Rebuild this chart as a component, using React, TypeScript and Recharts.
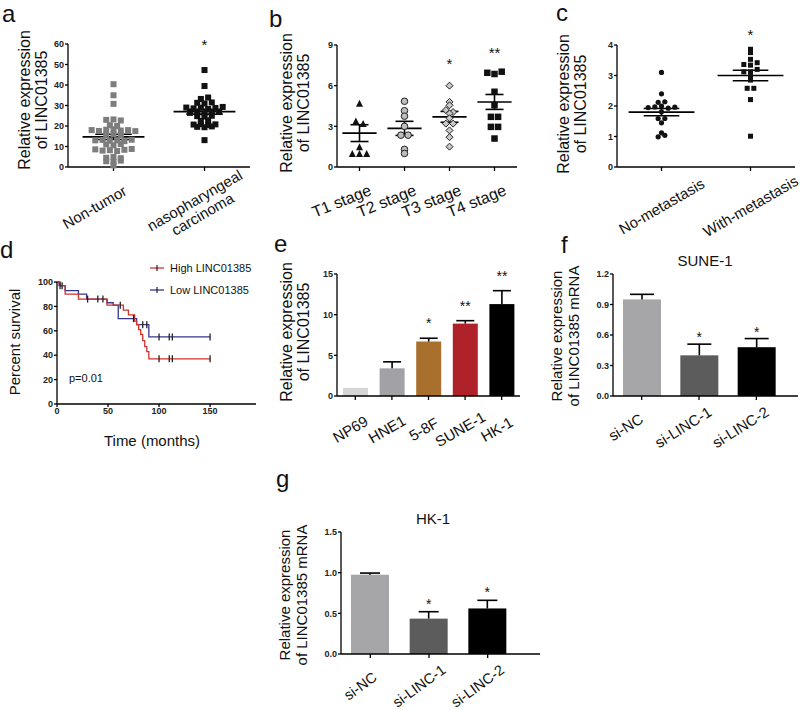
import React from 'react';
import {
  ScatterChart, Scatter, XAxis, YAxis, ReferenceLine, ReferenceDot,
  ComposedChart, Line, BarChart, Bar,
} from 'recharts';

const FONT = '"Liberation Sans", Arial, Helvetica, sans-serif';

// a: each inner array is one row of dots in the scatter plot
const aGroups = ['Non-tumor', 'nasopharyngeal\ncarcinoma'];
const aNonTumorRows = [
  [40.4], [35], [30.8], [23, 23.2, 22.7], [20.4, 20], [18, 17.6, 18.2, 18.4, 17.8, 18, 17.5],
  [15.7, 16, 15.5], [13, 13.2, 12.8, 13, 12.6, 13.3], [11, 10.6, 11.2], [8.6, 8, 8.2, 7.8, 8.4, 8.8],
  [4.5, 4.9, 4.3], [2.8, 2.5, 3.1], [0.8],
];
const aTumorRows = [
  [47.3], [39.5], [33.2, 33.9], [31.3, 31, 31.5], [29, 28.6, 28.9, 28.3, 28.8, 29.3],
  [26.4, 26.6, 26.2, 26.5, 26.8], [24.8, 24.6, 25], [22.5, 22.8], [20.7, 20.9, 20.5, 20.8],
  [19.6, 19.4, 19.8], [13.1],
];
const aMeans = [14.7, 27];
const aSem = [1.3, 1.2];

// b
const bGroups = ['T1 stage', 'T2 stage', 'T3 stage', 'T4 stage'];
const bT1Rows = [[4.7], [3.4, 3.2], [1.5], [1.0, 1.0, 1.0]];
const bT2Rows = [[4.85], [4.15], [3.75], [3.0], [2.35, 2.35], [1.3], [1.0]];
const bT3Rows = [[6.0], [4.8], [4.55], [4.2, 4.05], [3.95], [3.6], [3.2, 3.2], [2.7], [2.2], [1.5]];
const bT4Rows = [[6.95, 6.86, 7.03], [5.55], [4.56], [3.7, 3.7], [2.96, 2.96], [2.1]];
const bMeans = [2.5, 2.85, 3.7, 4.8];
const bSem = [0.62, 0.52, 0.4, 0.55];

// c
const cGroups = ['No-metastasis', 'With-metastasis'];
const cNoMetRows = [
  [3.1], [2.4], [2.12, 2.14], [1.95, 1.97, 2.0, 1.93, 1.96], [1.81], [1.59, 1.59], [1.45], [1.12], [0.99, 1.04],
];
const cMetRows = [
  [3.86], [3.75], [3.53], [3.36, 3.34, 3.42], [3.12, 3.12, 3.2], [2.96], [2.85], [2.58, 2.58], [2.21], [1.01],
];
const cMeans = [1.8, 3.0];
const cSem = [0.12, 0.17];

// d: Kaplan-Meier
const dHighTime = [0, 3, 8, 21, 49, 65, 70, 76, 78, 80, 82, 84, 86, 88, 90, 150];
const dHighSurv = [100, 97, 90, 86, 81, 77, 73, 68, 65, 61, 57, 52, 47, 43, 37, 37];
const dLowTime = [0, 2, 8, 21, 29, 49, 55, 60, 78, 90, 150];
const dLowSurv = [100, 97, 93, 90, 86, 83, 81, 70, 65, 55, 55];
const dHighCensorTime = [3, 62, 100, 110, 113, 150];
const dHighCensorSurv = [97, 81, 37, 37, 37, 37];
const dLowCensorTime = [5, 30, 40, 45, 75, 84, 88, 100, 110, 113, 150];
const dLowCensorSurv = [97, 86, 86, 86, 70, 65, 65, 55, 55, 55, 55];

// e
const eCells = ['NP69', 'HNE1', '5-8F', 'SUNE-1', 'HK-1'];
const eValues = [1.0, 3.4, 6.7, 8.9, 11.3];
const eSem = [0, 0.8, 0.4, 0.36, 1.65];
const eStars = ['', '', '*', '**', '**'];
const eColors = ['#d6d6d6', '#a2a2a6', '#a8702c', '#b0222a', '#000000'];

// f
const fCells = ['si-NC', 'si-LINC-1', 'si-LINC-2'];
const fValues = [0.95, 0.40, 0.48];
const fSem = [0.05, 0.11, 0.085];
const fStars = ['', '*', '*'];

// g
const gCells = ['si-NC', 'si-LINC-1', 'si-LINC-2'];
const gValues = [0.975, 0.435, 0.56];
const gSem = [0.02, 0.085, 0.1];
const gStars = ['', '*', '*'];

const knockColors = ['#a6a6a8', '#5c5c5c', '#000000'];

const AXIS = { stroke: '#000', strokeWidth: 1.3 };
const TICK = { fontSize: 9, fontWeight: 700, fill: '#222', fontFamily: FONT };

// spread each row of dots around the group centre
function rowsToPoints(rows: number[][], group: number, step: number) {
  const pts: { x: number; y: number }[] = [];
  rows.forEach((row) =>
    row.forEach((v, i) => pts.push({ x: group + (i - (row.length - 1) / 2) * step, y: v }))
  );
  return pts;
}

const square = (s: number, fill: string) => (p: any) => (
  <rect x={p.cx - s / 2} y={p.cy - s / 2} width={s} height={s} fill={fill} />
);
const dot = (r: number, fill: string, stroke = 'none') => (p: any) => (
  <circle cx={p.cx} cy={p.cy} r={r} fill={fill} stroke={stroke} strokeWidth={1} />
);
const triangle = (s: number, fill: string) => (p: any) => (
  <polygon
    points={`${p.cx},${p.cy - s / 2} ${p.cx - s / 2},${p.cy + s / 2} ${p.cx + s / 2},${p.cy + s / 2}`}
    fill={fill}
  />
);
const diamond = (s: number, fill: string) => (p: any) => (
  <polygon
    points={`${p.cx},${p.cy - s / 2} ${p.cx + s / 2},${p.cy} ${p.cx},${p.cy + s / 2} ${p.cx - s / 2},${p.cy}`}
    fill={fill}
    stroke="#222"
    strokeWidth={1}
  />
);

function AngledTick(props: any) {
  const { x, y, payload, labels, angle, dx, dy, size } = props;
  const idx = typeof payload.value === 'number' ? Math.round(payload.value) - 1 : 0;
  const raw = labels ? labels[idx] : payload.value;
  const lines = String(raw).split('\n');
  const lh = size * 1.05;
  const ox = Array.isArray(dx) ? dx[idx] ?? dx[0] : dx;
  return (
    <g transform={`translate(${x + ox},${y + dy}) rotate(${angle})`}>
      <text textAnchor="middle" fontSize={size} fontFamily={FONT} fill="#111">
        {lines.map((l, i) => (
          <tspan key={i} x={0} y={(i - (lines.length - 1) / 2) * lh} dominantBaseline="central">
            {l}
          </tspan>
        ))}
      </text>
    </g>
  );
}

const starShape = (text: string, size: number) => (p: any) => (
  <text x={p.cx} y={p.cy + size * 0.58} textAnchor="middle" fontSize={size} fontFamily={FONT} fill="#111">
    {text}
  </text>
);

function ScatterPanel(props: any) {
  const {
    width, height, margin, yDomain, yTicks, series, labels, means, sems, meanHalf, semHalf,
    stars, tick, xDomain,
  } = props;
  const xTicks = labels.map((_: string, i: number) => i + 1);
  return (
    <ScatterChart width={width} height={height} margin={margin} style={{ fontFamily: FONT }}>
      <XAxis
        type="number" dataKey="x" domain={xDomain} ticks={xTicks} interval={0}
        axisLine={AXIS} tickLine={AXIS} tickSize={4} height={height - margin.top - margin.bottom - props.plotH}
        tick={<AngledTick labels={labels} {...tick} />}
      />
      <YAxis
        type="number" dataKey="y" domain={yDomain} ticks={yTicks} interval={0} width={30}
        axisLine={AXIS} tickLine={AXIS} tickSize={3} tickMargin={1} tick={TICK}
      />
      {series.map((s: any, i: number) => (
        <Scatter key={i} data={s.points} shape={s.shape} isAnimationActive={false} />
      ))}
      {means.flatMap((m: number, i: number) => {
        const g = i + 1;
        const lo = m - sems[i];
        const hi = m + sems[i];
        return [
          <ReferenceLine key={'m' + i} segment={[{ x: g - meanHalf, y: m }, { x: g + meanHalf, y: m }]} stroke="#000" strokeWidth={1.6} />,
          <ReferenceLine key={'v' + i} segment={[{ x: g, y: lo }, { x: g, y: hi }]} stroke="#000" strokeWidth={1.6} />,
          <ReferenceLine key={'h' + i} segment={[{ x: g - semHalf, y: hi }, { x: g + semHalf, y: hi }]} stroke="#000" strokeWidth={1.6} />,
          <ReferenceLine key={'l' + i} segment={[{ x: g - semHalf, y: lo }, { x: g + semHalf, y: lo }]} stroke="#000" strokeWidth={1.6} />,
        ];
      })}
      {stars.map((s: any, i: number) => (
        <ReferenceDot key={'s' + i} x={s.x} y={s.y} r={0} ifOverflow="visible" shape={starShape(s.text, 15)} />
      ))}
    </ScatterChart>
  );
}

const barShape = (capHalf: number, starGap: number, starSize: number) => (p: any) => {
  const { x, y, width, height, payload } = p;
  const pxPerUnit = height / payload.value;
  const errTop = y - payload.sem * pxPerUnit;
  const cx = x + width / 2;
  return (
    <g>
      <rect x={x} y={y} width={width} height={height} fill={payload.fill} />
      {payload.sem > 0 && (
        <g stroke="#000" strokeWidth={1.6}>
          <line x1={cx} x2={cx} y1={y} y2={errTop} />
          <line x1={cx - capHalf} x2={cx + capHalf} y1={errTop} y2={errTop} />
        </g>
      )}
      {payload.star && (
        <text x={cx} y={errTop - starGap + starSize * 0.58} textAnchor="middle" fontSize={starSize} fontFamily={FONT} fill="#111">
          {payload.star}
        </text>
      )}
    </g>
  );
};

function BarPanel(props: any) {
  const { width, height, margin, data, yDomain, yTicks, yFormat, barSize, capHalf, starGap, tick, padRight, plotH } = props;
  return (
    <BarChart width={width} height={height} margin={margin} data={data} style={{ fontFamily: FONT }}>
      <XAxis
        dataKey="name" interval={0} axisLine={AXIS} tickLine={AXIS} tickSize={4}
        padding={{ left: 0, right: padRight }}
        height={height - margin.top - margin.bottom - plotH}
        tick={<AngledTick {...tick} />}
      />
      <YAxis
        type="number" domain={yDomain} ticks={yTicks} interval={0} width={30}
        axisLine={AXIS} tickLine={AXIS} tickSize={3} tickMargin={1} tick={TICK}
        tickFormatter={yFormat}
      />
      <Bar dataKey="value" barSize={barSize} isAnimationActive={false} shape={barShape(capHalf, starGap, 14)} />
    </BarChart>
  );
}

function Place({ left, top, children }: any) {
  return <div style={{ position: 'absolute', left, top }}>{children}</div>;
}

function VLabel({ cx, cy, lines, size }: { cx: number; cy: number; lines: string[]; size: number }) {
  const lh = size * 1.08;
  return (
    <text transform={`translate(${cx},${cy}) rotate(-90)`} textAnchor="middle" fontSize={size} fill="#111">
      {lines.map((l, i) => (
        <tspan key={i} x={0} y={(i - (lines.length - 1) / 2) * lh} dominantBaseline="central">
          {l}
        </tspan>
      ))}
    </text>
  );
}

export default function App() {
  const aSeries = [
    { points: rowsToPoints(aNonTumorRows, 1, 0.08), shape: square(6, '#7d7d7d') },
    { points: rowsToPoints(aTumorRows, 2, 0.08), shape: square(6, '#111') },
  ];
  const bSeries = [
    { points: rowsToPoints(bT1Rows, 1, 0.16), shape: triangle(7, '#111') },
    { points: rowsToPoints(bT2Rows, 2, 0.16), shape: dot(3.3, '#bdbdbd', '#222') },
    { points: rowsToPoints(bT3Rows, 3, 0.16), shape: diamond(7, '#c8c8c8') },
    { points: rowsToPoints(bT4Rows, 4, 0.16), shape: square(6.5, '#111') },
  ];
  const cSeries = [
    { points: rowsToPoints(cNoMetRows, 1, 0.075), shape: dot(2.6, '#111') },
    { points: rowsToPoints(cMetRows, 2, 0.075), shape: square(5, '#111') },
  ];

  const highLine = dHighTime.map((t, i) => ({ t, s: dHighSurv[i] }));
  const lowLine = dLowTime.map((t, i) => ({ t, s: dLowSurv[i] }));
  const highCensor = dHighCensorTime.map((t, i) => ({ t, s: dHighCensorSurv[i] }));
  const lowCensor = dLowCensorTime.map((t, i) => ({ t, s: dLowCensorSurv[i] }));
  const RED = '#d2302c';
  const BLUE = '#36368e';
  const censorMark = (color: string) => (p: any) => (
    <line x1={p.cx} x2={p.cx} y1={p.cy - 3.5} y2={p.cy + 3.5} stroke={color} strokeWidth={1.3} />
  );

  const eData = eCells.map((name, i) => ({ name, value: eValues[i], sem: eSem[i], star: eStars[i], fill: eColors[i] }));
  const fData = fCells.map((name, i) => ({ name, value: fValues[i], sem: fSem[i], star: fStars[i], fill: knockColors[i] }));
  const gData = gCells.map((name, i) => ({ name, value: gValues[i], sem: gSem[i], star: gStars[i], fill: knockColors[i] }));

  return (
    <div style={{ position: 'absolute', left: 0, top: 0, width: 800, height: 710, background: '#fff', fontFamily: FONT }}>
      <Place left={0} top={0}>
        <ScatterPanel
          width={260} height={240} margin={{ top: 44, right: 10, left: 38, bottom: 0 }} plotH={123}
          xDomain={[0.5, 2.5]} yDomain={[0, 60]} yTicks={[0, 10, 20, 30, 40, 50, 60]}
          series={aSeries} labels={aGroups} means={aMeans} sems={aSem} meanHalf={0.34} semHalf={0.2}
          stars={[{ x: 2, y: 61.5, text: '*' }]}
          tick={{ angle: -30, dx: [-19, -6], dy: 34, size: 15 }}
        />
      </Place>
      <Place left={260} top={0}>
        <ScatterPanel
          width={265} height={240} margin={{ top: 45, right: 8, left: 47, bottom: 0 }} plotH={122}
          xDomain={[0.5, 4.5]} yDomain={[0, 9]} yTicks={[0, 3, 6, 9]}
          series={bSeries} labels={bGroups} means={bMeans} sems={bSem} meanHalf={0.38} semHalf={0.2}
          stars={[{ x: 3, y: 7.9, text: '*' }, { x: 4, y: 8.7, text: '**' }]}
          tick={{ angle: -22, dx: -18, dy: 28, size: 16 }}
        />
      </Place>
      <Place left={525} top={0}>
        <ScatterPanel
          width={275} height={240} margin={{ top: 45, right: 5, left: 62, bottom: 0 }} plotH={122}
          xDomain={[0.5, 2.5]} yDomain={[0, 4]} yTicks={[0, 1, 2, 3, 4]}
          series={cSeries} labels={cGroups} means={cMeans} sems={cSem} meanHalf={0.37} semHalf={0.2}
          stars={[{ x: 2, y: 4.45, text: '*' }]}
          tick={{ angle: -30, dx: 0, dy: 33, size: 15 }}
        />
      </Place>

      <Place left={0} top={225}>
        <ComposedChart width={270} height={200} margin={{ top: 57, right: 14, left: 27, bottom: 0 }} style={{ fontFamily: FONT }}>
          <XAxis
            type="number" dataKey="t" domain={[0, 195]} ticks={[0, 50, 100, 150]} interval={0} allowDataOverflow
            axisLine={AXIS} tickLine={AXIS} tickSize={3} tickMargin={1} tick={TICK} height={21}
          />
          <YAxis
            type="number" dataKey="s" domain={[0, 100]} ticks={[0, 20, 40, 60, 80, 100]} interval={0} width={30}
            axisLine={AXIS} tickLine={AXIS} tickSize={3} tickMargin={1} tick={TICK}
          />
          <Line data={lowLine} dataKey="s" type="stepAfter" stroke={BLUE} strokeWidth={1.3} dot={false} isAnimationActive={false} />
          <Line data={highLine} dataKey="s" type="stepAfter" stroke={RED} strokeWidth={1.3} dot={false} isAnimationActive={false} />
          <Scatter data={lowCensor} dataKey="s" shape={censorMark('#222')} isAnimationActive={false} />
          <Scatter data={highCensor} dataKey="s" shape={censorMark('#222')} isAnimationActive={false} />
        </ComposedChart>
      </Place>

      <Place left={260} top={225}>
        <BarPanel
          width={270} height={240} margin={{ top: 49, right: 10, left: 47, bottom: 0 }} plotH={122}
          data={eData} yDomain={[0, 15]} yTicks={[0, 5, 10, 15]} barSize={25} capHalf={9} starGap={18} padRight={0}
          tick={{ angle: -30, dx: -5, dy: 27, size: 15 }}
        />
      </Place>
      <Place left={525} top={225}>
        <BarPanel
          width={275} height={240} margin={{ top: 49, right: 2, left: 58, bottom: 0 }} plotH={122}
          data={fData} yDomain={[0, 1.2]} yTicks={[0, 0.3, 0.6, 0.9, 1.2]} yFormat={(v: number) => v.toFixed(1)}
          barSize={38} capHalf={12} starGap={10} padRight={13}
          tick={{ angle: -32, dx: -16, dy: 25, size: 15 }}
        />
      </Place>
      <Place left={180} top={440}>
        <BarPanel
          width={370} height={270} margin={{ top: 92, right: 10, left: 131, bottom: 0 }} plotH={122}
          data={gData} yDomain={[0, 1.5]} yTicks={[0, 0.5, 1.0, 1.5]} yFormat={(v: number) => v.toFixed(1)}
          barSize={38} capHalf={10} starGap={11} padRight={23}
          tick={{ angle: -36, dx: -10, dy: 26, size: 14.5 }}
        />
      </Place>

      <svg width={800} height={710} style={{ position: 'absolute', left: 0, top: 0, pointerEvents: 'none' }} fontFamily={FONT}>
        <g fontSize={24} fill="#111">
          <text x={2} y={22}>a</text>
          <text x={269} y={27}>b</text>
          <text x={556} y={21}>c</text>
          <text x={0} y={258}>d</text>
          <text x={274} y={252}>e</text>
          <text x={561} y={253}>f</text>
          <text x={276} y={487}>g</text>
        </g>
        <VLabel cx={33} cy={100} lines={['Relative expression', 'of LINC01385']} size={16} />
        <VLabel cx={295} cy={103} lines={['Relative expression', 'of LINC01385']} size={16} />
        <VLabel cx={572} cy={104} lines={['Relative expression', 'of LINC01385']} size={16} />
        <VLabel cx={14} cy={342} lines={['Percent survival']} size={15} />
        <VLabel cx={295} cy={332} lines={['Relative expression', 'of LINC01385']} size={16} />
        <VLabel cx={565} cy={336} lines={['Relative expression', 'of LINC01385 mRNA']} size={15} />
        <VLabel cx={293} cy={595} lines={['Relative expression', 'of LINC01385 mRNA']} size={15} />
        <text x={152} y={440} textAnchor="middle" dominantBaseline="central" fontSize={15} fill="#111">Time (months)</text>
        <text x={69} y={378} dominantBaseline="central" fontSize={11} fill="#111">p=0.01</text>
        <text x={705} y={260} textAnchor="middle" dominantBaseline="central" fontSize={15} fill="#111">SUNE-1</text>
        <text x={433} y={518} textAnchor="middle" dominantBaseline="central" fontSize={15} fill="#111">HK-1</text>
        <g>
          <line x1={150} x2={164} y1={268} y2={268} stroke={RED} strokeWidth={1.3} />
          <line x1={157} x2={157} y1={265} y2={271} stroke="#222" strokeWidth={1.2} />
          <text x={170} y={268} dominantBaseline="central" fontSize={11} fill="#111">High LINC01385</text>
          <line x1={150} x2={164} y1={290} y2={290} stroke={BLUE} strokeWidth={1.3} />
          <line x1={157} x2={157} y1={287} y2={293} stroke="#222" strokeWidth={1.2} />
          <text x={170} y={290} dominantBaseline="central" fontSize={11} fill="#111">Low LINC01385</text>
        </g>
      </svg>
    </div>
  );
}
